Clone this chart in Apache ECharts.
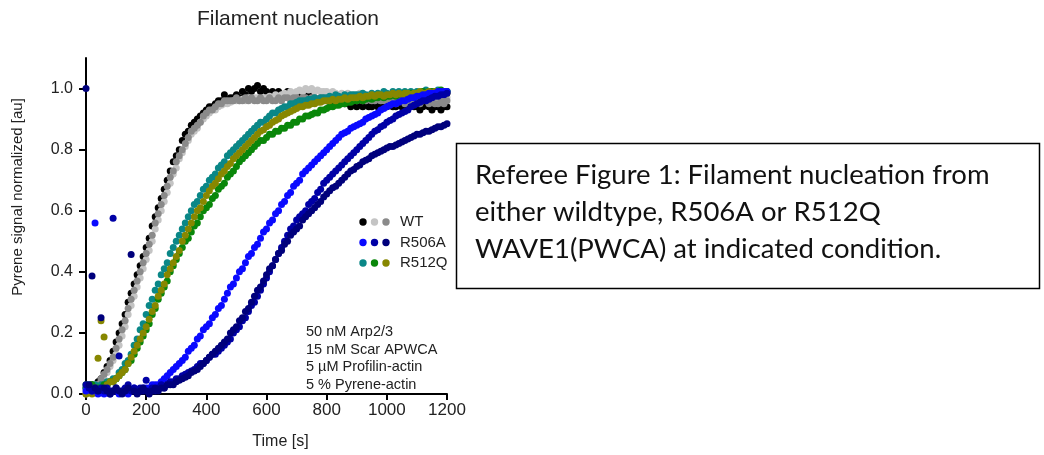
<!DOCTYPE html>
<html>
<head>
<meta charset="utf-8">
<script src="https://cdn.jsdelivr.net/npm/echarts@6/dist/echarts.min.js"></script>
<style>
  html, body { margin: 0; padding: 0; background: #fff; }
  #chart { width: 1044px; height: 455px; }
</style>
</head>
<body>
<div id="chart"></div>
<script>
// sampling interval of the pyrene traces, seconds
const TIME_STEP = 10;

const xTicks = [0, 200, 400, 600, 800, 1000, 1200];
const yTicks = [0, 0.2, 0.4, 0.6, 0.8, 1.0];

// WT (three repeats)
const wtBlack = [
  0.02, 0.01, 0.03, 0.02, 0.04, 0.05, 0.07, 0.09, 0.11, 0.14,
  0.17, 0.20, 0.23, 0.26, 0.30, 0.33, 0.36, 0.39, 0.42, 0.45,
  0.48, 0.51, 0.55, 0.58, 0.61, 0.64, 0.67, 0.70, 0.73, 0.76,
  0.78, 0.80, 0.83, 0.85, 0.86, 0.88, 0.89, 0.90, 0.91, 0.92,
  0.93, 0.94, 0.94, 0.95, 0.96, 0.96, 0.98, 0.96, 0.97, 0.97,
  0.98, 0.97, 0.99, 0.98, 1.00, 0.99, 1.00, 1.01, 0.99, 1.00,
  0.99, 0.98, 0.99, 0.98, 0.99, 0.98, 0.98, 0.99, 0.98, 0.98,
  0.97, 0.98, 0.97, 0.97, 0.98, 0.97, 0.97, 0.96, 0.97, 0.96,
  0.96, 0.97, 0.96, 0.96, 0.95, 0.96, 0.95, 0.95, 0.94, 0.95,
  0.94, 0.95, 0.94, 0.95, 0.94, 0.94, 0.95, 0.94, 0.94, 0.95,
  0.94, 0.95, 0.94, 0.94, 0.95, 0.94, 0.95, 0.94, 0.95, 0.94,
  0.94, 0.93, 0.94, 0.95, 0.94, 0.93, 0.94, 0.94, 0.93, 0.94, 0.94
];
const wtLight = [
  0.01, 0.02, 0.02, 0.03, 0.03, 0.04, 0.05, 0.07, 0.09, 0.11,
  0.13, 0.16, 0.19, 0.22, 0.26, 0.29, 0.32, 0.35, 0.38, 0.41,
  0.44, 0.47, 0.50, 0.54, 0.57, 0.60, 0.63, 0.66, 0.69, 0.72,
  0.74, 0.77, 0.79, 0.81, 0.83, 0.85, 0.86, 0.87, 0.89, 0.90,
  0.91, 0.92, 0.93, 0.93, 0.94, 0.945, 0.95, 0.95, 0.955, 0.96,
  0.96, 0.96, 0.965, 0.96, 0.97, 0.965, 0.97, 0.97, 0.965, 0.97,
  0.97, 0.975, 0.97, 0.98, 0.975, 0.98, 0.985, 0.98, 0.99, 0.985,
  0.99, 0.995, 0.99, 1.00, 0.995, 1.00, 0.99, 0.995, 0.99, 0.99,
  0.99, 0.985, 0.99, 0.985, 0.98, 0.985, 0.98, 0.985, 0.98, 0.98,
  0.98, 0.985, 0.98, 0.975, 0.98, 0.98, 0.975, 0.98, 0.98, 0.975,
  0.98, 0.975, 0.98, 0.975, 0.97, 0.975, 0.98, 0.975, 0.97, 0.975,
  0.975, 0.97, 0.975, 0.97, 0.975, 0.97, 0.97, 0.975, 0.97, 0.97, 0.97
];
const wtGrey = [
  0.00, 0.01, 0.01, 0.02, 0.03, 0.05, 0.065, 0.08, 0.10, 0.12,
  0.15, 0.18, 0.21, 0.24, 0.28, 0.31, 0.34, 0.37, 0.40, 0.43,
  0.46, 0.49, 0.52, 0.56, 0.59, 0.62, 0.65, 0.68, 0.71, 0.73,
  0.76, 0.78, 0.80, 0.82, 0.84, 0.86, 0.87, 0.88, 0.89, 0.91,
  0.92, 0.93, 0.93, 0.94, 0.95, 0.95, 0.96, 0.96, 0.96, 0.96,
  0.97, 0.96, 0.96, 0.97, 0.96, 0.97, 0.96, 0.96, 0.97, 0.96,
  0.96, 0.97, 0.96, 0.96, 0.97, 0.96, 0.97, 0.97, 0.96, 0.97,
  0.97, 0.96, 0.97, 0.97, 0.96, 0.97, 0.97, 0.96, 0.97, 0.97,
  0.96, 0.97, 0.97, 0.96, 0.97, 0.97, 0.96, 0.97, 0.96, 0.97,
  0.96, 0.97, 0.96, 0.96, 0.97, 0.96, 0.96, 0.97, 0.96, 0.96,
  0.97, 0.96, 0.96, 0.95, 0.96, 0.96, 0.95, 0.96, 0.96, 0.95,
  0.96, 0.95, 0.96, 0.96, 0.95, 0.96, 0.95, 0.95, 0.96, 0.95, 0.96
];

// R512Q (three repeats)
const r512qTeal = [
  0.02, 0.03, 0.02, 0.03, 0.02, 0.03, 0.03, 0.04, 0.04, 0.05,
  0.05, 0.07, 0.08, 0.10, 0.11, 0.13, 0.16, 0.18, 0.21, 0.23,
  0.26, 0.29, 0.31, 0.34, 0.36, 0.39, 0.41, 0.43, 0.46, 0.48,
  0.50, 0.52, 0.54, 0.56, 0.58, 0.60, 0.62, 0.63, 0.65, 0.67,
  0.68, 0.70, 0.71, 0.72, 0.74, 0.75, 0.76, 0.78, 0.79, 0.80,
  0.81, 0.82, 0.83, 0.84, 0.85, 0.86, 0.87, 0.88, 0.89, 0.89,
  0.90, 0.91, 0.92, 0.92, 0.93, 0.935, 0.94, 0.94, 0.95, 0.95,
  0.955, 0.96, 0.96, 0.96, 0.965, 0.965, 0.97, 0.96, 0.97, 0.97,
  0.97, 0.975, 0.97, 0.98, 0.975, 0.97, 0.98, 0.975, 0.98, 0.98,
  0.98, 0.98, 0.985, 0.98, 0.975, 0.985, 0.98, 0.985, 0.98, 0.99,
  0.985, 0.98, 0.99, 0.985, 0.99, 0.98, 0.99, 0.985, 0.99, 0.985,
  0.99, 0.985, 0.99, 0.995, 0.985, 0.99, 0.99, 0.995, 0.985, 0.99, 0.99
];
const r512qGreen = [
  0.03, 0.02, 0.03, 0.02, 0.02, 0.02, 0.03, 0.03, 0.04, 0.04,
  0.05, 0.06, 0.07, 0.08, 0.10, 0.11, 0.13, 0.15, 0.17, 0.19,
  0.21, 0.23, 0.26, 0.28, 0.31, 0.33, 0.35, 0.37, 0.40, 0.42,
  0.44, 0.46, 0.48, 0.50, 0.51, 0.53, 0.55, 0.56, 0.58, 0.60,
  0.61, 0.62, 0.64, 0.65, 0.67, 0.68, 0.69, 0.71, 0.72, 0.73,
  0.745, 0.76, 0.77, 0.78, 0.79, 0.80, 0.81, 0.82, 0.83, 0.83,
  0.84, 0.85, 0.85, 0.86, 0.86, 0.87, 0.87, 0.88, 0.88, 0.89,
  0.89, 0.90, 0.90, 0.91, 0.91, 0.915, 0.92, 0.92, 0.93, 0.93,
  0.935, 0.94, 0.94, 0.945, 0.945, 0.95, 0.95, 0.955, 0.955, 0.96,
  0.96, 0.965, 0.96, 0.965, 0.97, 0.965, 0.97, 0.97, 0.975, 0.97,
  0.975, 0.975, 0.98, 0.975, 0.98, 0.98, 0.985, 0.98, 0.985, 0.98,
  0.985, 0.985, 0.99, 0.985, 0.99, 0.99, 0.985, 0.99, 0.995, 0.99, 0.99
];
const r512qOlive = [
  0.00, 0.01, 0.00, 0.02, 0.117, 0.24, 0.187, 0.03, 0.04, 0.04,
  0.05, 0.06, 0.07, 0.08, 0.10, 0.12, 0.14, 0.16, 0.18, 0.20,
  0.22, 0.245, 0.27, 0.29, 0.32, 0.34, 0.36, 0.39, 0.41, 0.43,
  0.45, 0.47, 0.50, 0.52, 0.54, 0.56, 0.58, 0.60, 0.61, 0.63,
  0.65, 0.665, 0.68, 0.69, 0.705, 0.72, 0.73, 0.745, 0.755, 0.77,
  0.78, 0.79, 0.80, 0.81, 0.82, 0.83, 0.84, 0.85, 0.86, 0.865,
  0.875, 0.88, 0.89, 0.895, 0.90, 0.91, 0.915, 0.92, 0.925, 0.93,
  0.935, 0.94, 0.94, 0.945, 0.945, 0.95, 0.95, 0.955, 0.955, 0.96,
  0.96, 0.96, 0.965, 0.96, 0.965, 0.965, 0.97, 0.965, 0.97, 0.97,
  0.97, 0.975, 0.97, 0.975, 0.975, 0.98, 0.975, 0.98, 0.98, 0.975,
  0.98, 0.98, 0.985, 0.98, 0.985, 0.98, 0.985, 0.985, 0.98, 0.985,
  0.985, 0.99, 0.985, 0.985, 0.99, 0.985, 0.99, 0.98, 0.985, 0.99, 0.985
];

// R506A (three repeats)
const r506aBlue = [
  0.01, 0.02, 0.01, 0.56, 0.00, 0.01, 0.00, 0.01, 0.00, 0.01,
  0.01, 0.00, 0.01, 0.01, 0.00, 0.01, 0.02, 0.01, 0.01, 0.02,
  0.02, 0.02, 0.03, 0.03, 0.03, 0.04, 0.05, 0.06, 0.07, 0.08,
  0.09, 0.10, 0.11, 0.12, 0.14, 0.15, 0.16, 0.18, 0.19, 0.21,
  0.22, 0.23, 0.25, 0.26, 0.28, 0.29, 0.31, 0.33, 0.35, 0.36,
  0.38, 0.40, 0.41, 0.43, 0.45, 0.46, 0.48, 0.49, 0.51, 0.53,
  0.54, 0.56, 0.57, 0.59, 0.60, 0.62, 0.63, 0.65, 0.66, 0.68,
  0.69, 0.70, 0.72, 0.73, 0.74, 0.75, 0.76, 0.77, 0.78, 0.79,
  0.80, 0.81, 0.82, 0.83, 0.84, 0.85, 0.855, 0.86, 0.87, 0.875,
  0.88, 0.885, 0.89, 0.90, 0.905, 0.91, 0.915, 0.92, 0.93, 0.935,
  0.94, 0.945, 0.95, 0.95, 0.955, 0.96, 0.96, 0.965, 0.97, 0.97,
  0.975, 0.975, 0.98, 0.98, 0.985, 0.985, 0.985, 0.99, 0.99, 0.99, 0.99
];
const r506aNavy = [
  0.03, 0.02, 0.01, 0.02, 0.01, 0.02, 0.01, 0.02, 0.01, 0.575,
  0.02, 0.124, 0.01, 0.02, 0.03, 0.01, 0.02, 0.01, 0.02, 0.01,
  0.045, 0.01, 0.02, 0.01, 0.02, 0.03, 0.02, 0.03, 0.04, 0.04,
  0.05, 0.05, 0.06, 0.065, 0.07, 0.075, 0.08, 0.09, 0.10, 0.10,
  0.11, 0.12, 0.13, 0.13, 0.14, 0.15, 0.16, 0.17, 0.18, 0.20,
  0.21, 0.22, 0.24, 0.25, 0.27, 0.29, 0.30, 0.32, 0.34, 0.36,
  0.38, 0.40, 0.42, 0.44, 0.46, 0.48, 0.50, 0.52, 0.54, 0.55,
  0.57, 0.58, 0.59, 0.60, 0.62, 0.63, 0.64, 0.66, 0.67, 0.69,
  0.70, 0.71, 0.72, 0.73, 0.74, 0.75, 0.76, 0.77, 0.78, 0.79,
  0.80, 0.81, 0.82, 0.83, 0.84, 0.85, 0.86, 0.865, 0.875, 0.88,
  0.89, 0.895, 0.90, 0.91, 0.915, 0.92, 0.925, 0.93, 0.94, 0.945,
  0.95, 0.955, 0.96, 0.96, 0.965, 0.97, 0.975, 0.975, 0.98, 0.98, 0.985
];
const r506aDark = [
  1.00, 0.03, 0.386, 0.02, 0.01, 0.25, 0.02, 0.01, 0.00, 0.01,
  0.02, 0.01, 0.00, 0.01, 0.02, 0.457, 0.01, 0.00, 0.01, 0.02,
  0.01, 0.00, 0.01, 0.02, 0.01, 0.02, 0.02, 0.03, 0.03, 0.03,
  0.04, 0.045, 0.05, 0.055, 0.06, 0.07, 0.075, 0.08, 0.09, 0.10,
  0.11, 0.12, 0.13, 0.14, 0.15, 0.16, 0.17, 0.18, 0.20, 0.21,
  0.22, 0.24, 0.25, 0.27, 0.28, 0.30, 0.32, 0.34, 0.35, 0.37,
  0.39, 0.41, 0.42, 0.44, 0.46, 0.47, 0.49, 0.50, 0.52, 0.53,
  0.54, 0.55, 0.57, 0.58, 0.59, 0.60, 0.61, 0.62, 0.63, 0.645,
  0.655, 0.665, 0.675, 0.68, 0.69, 0.70, 0.71, 0.72, 0.73, 0.735,
  0.745, 0.75, 0.76, 0.765, 0.77, 0.78, 0.785, 0.79, 0.795, 0.80,
  0.805, 0.81, 0.81, 0.815, 0.82, 0.825, 0.83, 0.835, 0.84, 0.845,
  0.85, 0.85, 0.855, 0.86, 0.86, 0.865, 0.87, 0.875, 0.875, 0.88, 0.885
];

const conditionLines = [
  "50 nM Arp2/3",
  "15 nM Scar APWCA",
  "5 \u00b5M Profilin-actin",
  "5 % Pyrene-actin"
];
const captionLines = [
  "Referee Figure 1: Filament nucleation from",
  "either wildtype, R506A or R512Q",
  "WAVE1(PWCA) at indicated condition."
];

// draw order matters a bit: later traces sit on top
const traces = [
  { name: "WT", values: wtBlack, color: "#000000" },
  { name: "WT", values: wtLight, color: "#c4c4c4" },
  { name: "WT", values: wtGrey, color: "#8a8a8a" },
  { name: "R512Q", values: r512qTeal, color: "#0a8787" },
  { name: "R512Q", values: r512qGreen, color: "#0a870a" },
  { name: "R512Q", values: r512qOlive, color: "#878700" },
  { name: "R506A", values: r506aBlue, color: "#0a0aff" },
  { name: "R506A", values: r506aNavy, color: "#0000a6" },
  { name: "R506A", values: r506aDark, color: "#00007c" }
];

const legendRows = [
  { label: "WT", colors: ["#000000", "#c4c4c4", "#8a8a8a"] },
  { label: "R506A", colors: ["#0a0aff", "#0000a6", "#00007c"] },
  { label: "R512Q", colors: ["#0a8787", "#0a870a", "#878700"] }
];

const toPoints = (values) => values.map((v, i) => [i * TIME_STEP, v]);

const chart = echarts.init(document.getElementById("chart"), null, { renderer: "canvas" });

const legendGraphics = [];
legendRows.forEach((row, r) => {
  const cy = 222 + r * 20.5;
  row.colors.forEach((c, k) => {
    legendGraphics.push({
      type: "circle",
      shape: { cx: 363 + k * 11.5, cy: cy, r: 3.7 },
      style: { fill: c },
      silent: true
    });
  });
  legendGraphics.push({
    type: "text",
    x: 400,
    y: cy,
    style: {
      text: row.label,
      font: "15px 'Liberation Sans', Arial, sans-serif",
      fill: "#222",
      verticalAlign: "middle"
    },
    silent: true
  });
});

const option = {
  animation: false,
  backgroundColor: "#fff",
  title: {
    text: "Filament nucleation",
    left: 283,
    top: 4,
    textAlign: "center",
    textStyle: {
      fontFamily: "Liberation Sans",
      fontSize: 21,
      fontWeight: "normal",
      color: "#222"
    }
  },
  grid: { left: 80, right: 597, top: 58, bottom: 59.5, containLabel: false },
  xAxis: {
    type: "value",
    min: -20,
    max: 1200,
    name: "Time [s]",
    nameLocation: "middle",
    nameGap: 40,
    nameTextStyle: {
      fontFamily: "Liberation Sans",
      fontSize: 16,
      color: "#222",
      padding: [0, 0, 0, 34]
    },
    axisLine: { onZero: true, lineStyle: { color: "#000", width: 2 } },
    axisTick: { show: true, length: 6, lineStyle: { color: "#000", width: 2 }, customValues: xTicks },
    axisLabel: {
      customValues: xTicks,
      margin: 8,
      fontFamily: "Liberation Sans",
      fontSize: 17,
      color: "#222",
      formatter: (v) => String(v)
    },
    splitLine: { show: false }
  },
  yAxis: {
    type: "value",
    min: 0,
    max: 1.1,
    name: "Pyrene signal normalized [au]",
    nameLocation: "middle",
    nameGap: 55,
    nameRotate: 90,
    nameTextStyle: {
      fontFamily: "Liberation Sans",
      fontSize: 15,
      color: "#222",
      padding: [0, 0, 0, 58]
    },
    axisLine: { onZero: true, lineStyle: { color: "#000", width: 2 } },
    axisTick: { show: true, length: 7, lineStyle: { color: "#000", width: 2 }, customValues: yTicks },
    axisLabel: {
      customValues: yTicks,
      margin: 7,
      fontFamily: "Liberation Sans",
      fontSize: 16,
      color: "#222",
      formatter: (v) => v.toFixed(1)
    },
    splitLine: { show: false }
  },
  series: traces.map((t) => ({
    type: "scatter",
    name: t.name,
    data: toPoints(t.values),
    symbol: "circle",
    symbolSize: 7,
    itemStyle: { color: t.color, opacity: 1 },
    emphasis: { disabled: true },
    clip: false
  })),
  graphic: [
    {
      type: "text",
      x: 306,
      y: 323,
      style: {
        text: conditionLines.join("\n"),
        font: "14.5px 'Liberation Sans', Arial, sans-serif",
        lineHeight: 17.7,
        fill: "#222"
      },
      silent: true
    },
    ...legendGraphics,
    {
      type: "rect",
      shape: { x: 456.5, y: 143.5, width: 583, height: 145 },
      style: { fill: "#fff", stroke: "#000", lineWidth: 1.5 },
      silent: true
    },
    {
      type: "text",
      x: 475,
      y: 156.5,
      style: {
        text: captionLines.join("\n"),
        font: "27.5px Lato, 'Open Sans', sans-serif",
        lineHeight: 37,
        fill: "#111"
      },
      silent: true
    }
  ]
};

chart.setOption(option);
</script>
</body>
</html>
